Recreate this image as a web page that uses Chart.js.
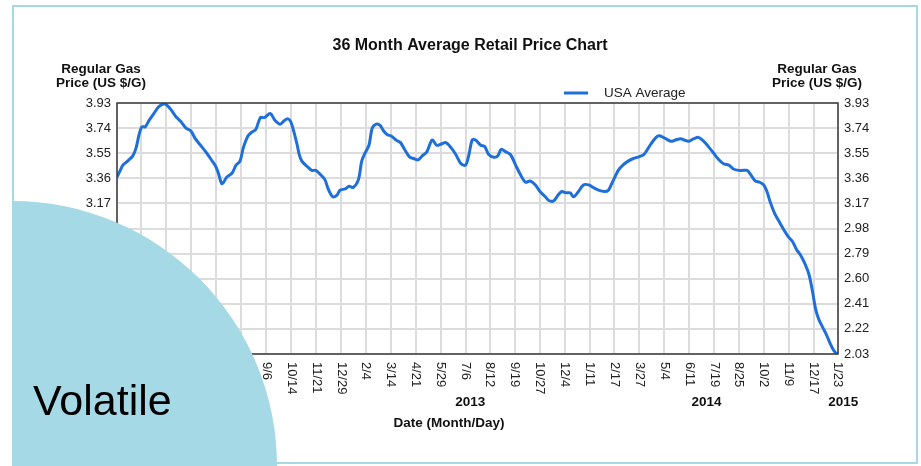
<!DOCTYPE html>
<html>
<head>
<meta charset="utf-8">
<style>
  html, body { margin: 0; padding: 0; background: #fff; }
  canvas { display: block; }
</style>
<script src="https://cdn.jsdelivr.net/npm/chart.js@4.4.1/dist/chart.umd.min.js"></script>
</head>
<body>
<canvas id="gasChart" width="921" height="466"></canvas>
<script>
// 36 month USA average regular gas price, 1/23/2012 - 1/23/2015

// x axis tick dates (one grid line each)
const tickDates = [
    '2012-01-23', '2012-02-29', '2012-04-07', '2012-05-15', '2012-06-22', '2012-07-30',
    '2012-09-06', '2012-10-14', '2012-11-21', '2012-12-29', '2013-02-04', '2013-03-14',
    '2013-04-21', '2013-05-29', '2013-07-06', '2013-08-12', '2013-09-19', '2013-10-27',
    '2013-12-04', '2014-01-11', '2014-02-17', '2014-03-27', '2014-05-04', '2014-06-11',
    '2014-07-19', '2014-08-25', '2014-10-02', '2014-11-09', '2014-12-17', '2015-01-23'
];

// year captions under the date ticks, placed at these day offsets
const yearLabels = ['2012', '2013', '2014', '2015'];
const yearDays = [180, 537, 896, 1104];

// price axis ticks
const priceTicks = [2.03, 2.22, 2.41, 2.60, 2.79, 2.98, 3.17, 3.36, 3.55, 3.74, 3.93];

// series: days since 1/23/2012 and price in US $/gal
const priceDays = [
    0, 4, 9, 16, 24, 29, 34, 38, 43, 49, 56, 63, 69, 74, 82, 89, 97, 105, 112, 119,
    127, 135, 142, 149, 154, 159, 162, 167, 175, 181, 187, 192, 199, 205, 211, 218, 224, 233, 240, 248,
    255, 260, 264, 269, 274, 277, 281, 289, 296, 302, 309, 316, 321, 328, 334, 339, 347, 353, 359, 367,
    372, 377, 383, 388, 394, 400, 405, 411, 417, 424, 431, 437, 445, 451, 458, 464, 471, 479, 486, 493,
    500, 508, 515, 523, 530, 535, 540, 545, 553, 559, 565, 573, 579, 584, 591, 598, 606, 613, 621, 628,
    636, 643, 651, 657, 664, 670, 676, 682, 689, 694, 700, 709, 717, 724, 732, 741, 747, 754, 762, 769,
    777, 785, 792, 801, 809, 816, 822, 826, 834, 842, 849, 857, 862, 869, 877, 884, 892, 899, 907, 915,
    922, 930, 937, 945, 952, 958, 963, 970, 977, 983, 988, 993, 1000, 1008, 1015, 1020, 1027, 1033, 1039, 1046,
    1052, 1057, 1062, 1067, 1073, 1079, 1084, 1088, 1092, 1096
];
const prices = [
    3.37, 3.41, 3.46, 3.49, 3.53, 3.59, 3.70, 3.75, 3.75, 3.80, 3.85, 3.90, 3.92, 3.92, 3.88, 3.83, 3.79, 3.74, 3.72, 3.66,
    3.61, 3.56, 3.51, 3.46, 3.40, 3.32, 3.33, 3.37, 3.40, 3.46, 3.49, 3.59, 3.68, 3.71, 3.73, 3.82, 3.82, 3.85, 3.80, 3.77,
    3.80, 3.81, 3.79, 3.71, 3.61, 3.54, 3.49, 3.45, 3.42, 3.42, 3.39, 3.35, 3.28, 3.22, 3.23, 3.27, 3.28, 3.30, 3.29, 3.35,
    3.49, 3.55, 3.61, 3.74, 3.77, 3.76, 3.72, 3.69, 3.68, 3.65, 3.63, 3.58, 3.52, 3.51, 3.50, 3.53, 3.56, 3.65, 3.61, 3.62,
    3.63, 3.59, 3.54, 3.47, 3.46, 3.54, 3.65, 3.65, 3.61, 3.60, 3.54, 3.52, 3.53, 3.58, 3.56, 3.54, 3.46, 3.39, 3.33, 3.34,
    3.31, 3.26, 3.22, 3.19, 3.19, 3.23, 3.26, 3.25, 3.25, 3.22, 3.25, 3.31, 3.31, 3.29, 3.27, 3.26, 3.27, 3.34, 3.42, 3.46,
    3.49, 3.51, 3.52, 3.54, 3.60, 3.65, 3.68, 3.68, 3.66, 3.64, 3.65, 3.66, 3.65, 3.64, 3.66, 3.67, 3.64, 3.60, 3.55, 3.50,
    3.47, 3.46, 3.43, 3.42, 3.42, 3.42, 3.39, 3.34, 3.33, 3.31, 3.26, 3.18, 3.09, 3.02, 2.96, 2.92, 2.88, 2.82, 2.78, 2.71,
    2.63, 2.51, 2.37, 2.29, 2.23, 2.17, 2.11, 2.07, 2.04, 2.03
];

const DAY = 864e5;
const start = Date.parse(tickDates[0]);
const tickDays = tickDates.map(d => Math.round((Date.parse(d) - start) / DAY));
const tickLabels = tickDates.map(d => {
    const p = d.split('-');
    return parseInt(p[1], 10) + '/' + parseInt(p[2], 10);
});

const FONT = '"Liberation Sans", Arial, sans-serif';
const LINE_BLUE = '#1f6fdb';
const GRID = '#dcdcdc';
const SLIDE_BLUE = '#a5d9e6';

Chart.defaults.font.family = FONT;

// titles, date labels, frame and the slide decoration
const decorPlugin = {
    id: 'decor',
    beforeDraw(chart) {
        const ctx = chart.ctx;
        ctx.save();
        ctx.fillStyle = '#ffffff';
        ctx.fillRect(0, 0, chart.width, chart.height);
        ctx.restore();
    },
    afterDraw(chart) {
        const ctx = chart.ctx;
        const a = chart.chartArea;
        const xs = chart.scales.x;
        ctx.save();

        // plot frame
        ctx.strokeStyle = '#3a3a3a';
        ctx.lineWidth = 1.5;
        ctx.strokeRect(a.left, a.top, a.right - a.left, a.bottom - a.top);

        // rotated date ticks
        ctx.fillStyle = '#222';
        ctx.font = '13px ' + FONT;
        ctx.textAlign = 'left';
        ctx.textBaseline = 'middle';
        tickDays.forEach((d, i) => {
            ctx.save();
            ctx.translate(xs.getPixelForValue(d), a.bottom + 8);
            ctx.rotate(Math.PI / 2);
            ctx.fillText(tickLabels[i], 0, 0);
            ctx.restore();
        });

        // years + axis caption
        ctx.fillStyle = '#111';
        ctx.font = 'bold 13.5px ' + FONT;
        ctx.textAlign = 'center';
        yearLabels.forEach((y, i) => {
            ctx.fillText(y, xs.getPixelForValue(yearDays[i]), 402);
        });
        ctx.fillText('Date (Month/Day)', 449, 423);

        // y axis captions, both sides
        ctx.fillText('Regular Gas', 101, 69);
        ctx.fillText('Price (US $/G)', 101, 83);
        ctx.fillText('Regular Gas', 817, 69);
        ctx.fillText('Price (US $/G)', 817, 83);

        // chart title
        ctx.font = 'bold 16px ' + FONT;
        ctx.fillText('36 Month Average Retail Price Chart', 470, 46);

        // legend
        ctx.strokeStyle = LINE_BLUE;
        ctx.lineWidth = 3;
        ctx.beginPath();
        ctx.moveTo(564, 93);
        ctx.lineTo(588, 93);
        ctx.stroke();
        ctx.fillStyle = '#222';
        ctx.font = '13.5px ' + FONT;
        ctx.textAlign = 'left';
        ctx.fillText('USA Average', 604, 93);

        // slide frame
        ctx.strokeStyle = SLIDE_BLUE;
        ctx.lineWidth = 2;
        ctx.strokeRect(13, 6, 904, 457);

        // quarter circle with caption
        ctx.fillStyle = SLIDE_BLUE;
        ctx.beginPath();
        ctx.moveTo(12, 466);
        ctx.arc(12, 466, 265, -Math.PI / 2, 0);
        ctx.closePath();
        ctx.fill();
        ctx.fillStyle = '#000';
        ctx.font = '43px ' + FONT;
        ctx.textAlign = 'left';
        ctx.textBaseline = 'alphabetic';
        ctx.fillText('Volatile', 33, 415);

        ctx.restore();
    }
};

const priceTickOpts = {
    color: '#222',
    font: { size: 13 },
    padding: 6,
    callback: v => Number(v).toFixed(2)
};

new Chart(document.getElementById('gasChart').getContext('2d'), {
    type: 'line',
    data: {
        datasets: [{
            label: 'USA Average',
            data: priceDays.map((d, i) => ({ x: d, y: prices[i] })),
            borderColor: LINE_BLUE,
            borderWidth: 3,
            pointRadius: 0,
            tension: 0.3,
            fill: false,
            yAxisID: 'y'
        }]
    },
    options: {
        responsive: false,
        animation: false,
        devicePixelRatio: 1,
        layout: { padding: { top: 103, left: 0, right: 0, bottom: 0 } },
        plugins: {
            legend: { display: false },
            title: { display: false },
            tooltip: { enabled: false }
        },
        scales: {
            x: {
                type: 'linear',
                min: 0,
                max: tickDays[tickDays.length - 1],
                afterBuildTicks: s => { s.ticks = tickDays.map(v => ({ value: v })); },
                afterFit: s => { s.height = 112; },
                ticks: { display: false },
                grid: { color: GRID, lineWidth: 2, drawTicks: false },
                border: { display: false }
            },
            y: {
                position: 'left',
                min: priceTicks[0],
                max: priceTicks[priceTicks.length - 1],
                afterBuildTicks: s => { s.ticks = priceTicks.map(v => ({ value: v })); },
                afterFit: s => { s.width = 117; },
                ticks: priceTickOpts,
                grid: { color: GRID, lineWidth: 2, drawTicks: false },
                border: { display: false }
            },
            y2: {
                position: 'right',
                min: priceTicks[0],
                max: priceTicks[priceTicks.length - 1],
                afterBuildTicks: s => { s.ticks = priceTicks.map(v => ({ value: v })); },
                afterFit: s => { s.width = 83; },
                ticks: priceTickOpts,
                grid: { display: false, drawTicks: false },
                border: { display: false }
            }
        }
    },
    plugins: [decorPlugin]
});
</script>
</body>
</html>
